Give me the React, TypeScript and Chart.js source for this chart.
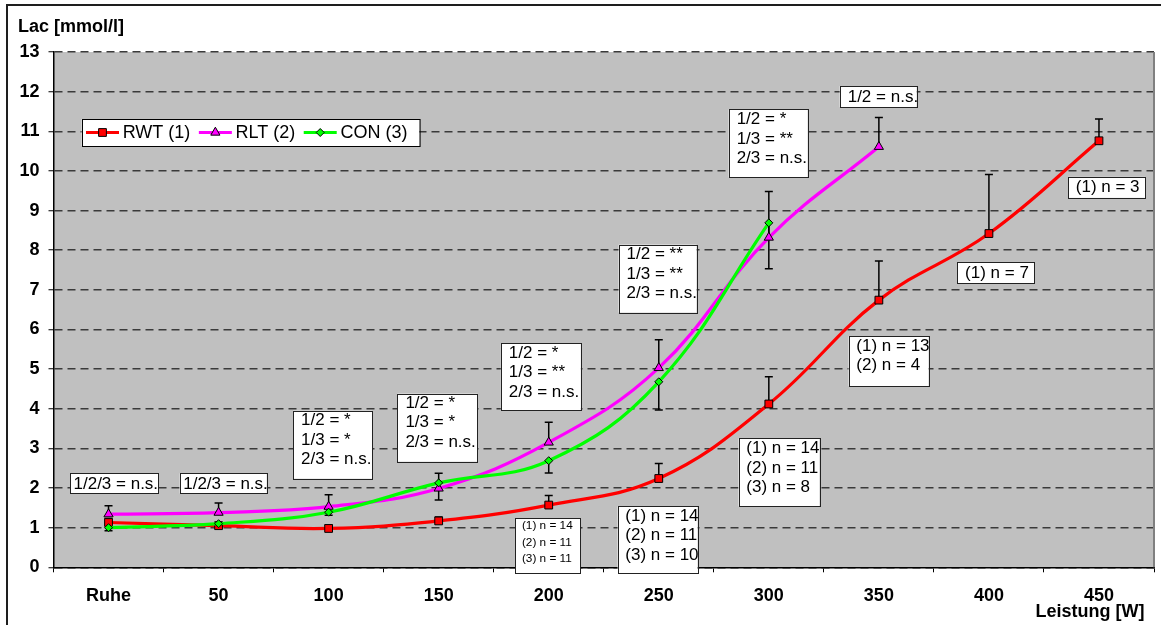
import React, { useEffect, useRef } from 'react';
import { Chart, registerables } from 'chart.js';

Chart.register(...registerables);

// Workload steps on the x axis
const categories = ['Ruhe', '50', '100', '150', '200', '250', '300', '350', '400', '450'];

// Mean blood lactate per group [mmol/l]
const rwtMean = [1.13, 1.05, 0.98, 1.17, 1.57, 2.24, 4.12, 6.74, 8.42, 10.76];
const rltMean = [1.34, 1.38, 1.53, 1.99, 3.15, 5.03, 8.32, 10.61, null, null];
const conMean = [1.0, 1.1, 1.39, 2.13, 2.69, 4.68, 8.69, null, null, null];

// Standard deviations (RWT and RLT drawn upward, CON drawn downward)
const rwtSd = [0.1, 0.08, 0.08, 0.1, 0.24, 0.38, 0.69, 0.99, 1.49, 0.55];
const rltSd = [0.21, 0.24, 0.3, 0.38, 0.51, 0.71, 1.16, 0.74, null, null];
const conSd = [0.08, 0.06, 0.08, 0.43, 0.31, 0.71, 1.16, null, null, null];

// Y axis range
const yMin = 0;
const yMax = 13;
const yStep = 1;

// Axis titles
const yTitle = 'Lac [mmol/l]';
const xTitle = 'Leistung [W]';

// Significance and sample-size notes
const noteTexts: string[][] = [
  ['1/2/3 = n.s.'],
  ['1/2/3 = n.s.'],
  ['1/2 = *', '1/3 = *', '2/3 = n.s.'],
  ['1/2 = *', '1/3 = *', '2/3 = n.s.'],
  ['1/2 = *', '1/3 = **', '2/3 = n.s.'],
  ['1/2 = **', '1/3 = **', '2/3 = n.s.'],
  ['1/2 = *', '1/3 = **', '2/3 = n.s.'],
  ['1/2 = n.s.'],
  ['(1) n = 14', '(2) n = 11', '(3) n = 11'],
  ['(1) n = 14', '(2) n = 11', '(3) n = 10'],
  ['(1) n = 14', '(2) n = 11', '(3) n = 8'],
  ['(1) n = 13', '(2) n = 4'],
  ['(1) n = 7'],
  ['(1) n = 3'],
];

// Placement of each note box: x in category units, y (top edge) in axis units, size in px
const noteLayout = [
  { x: -0.35, y: 2.37, w: 88, h: 20, pad: 3.5, size: 17, lead: 19.4, first: 10.5 },
  { x: 0.647, y: 2.37, w: 87, h: 20, pad: 3.5, size: 17, lead: 19.4, first: 10.5 },
  { x: 1.677, y: 3.95, w: 79, h: 68, pad: 8, size: 17, lead: 19.6, first: 9.5 },
  { x: 2.625, y: 4.38, w: 80, h: 68, pad: 8, size: 17, lead: 19.6, first: 9.5 },
  { x: 3.565, y: 5.65, w: 80, h: 67, pad: 8, size: 17, lead: 19.4, first: 10 },
  { x: 4.635, y: 8.14, w: 78, h: 68, pad: 8, size: 17, lead: 19.4, first: 10 },
  { x: 5.635, y: 11.55, w: 79, h: 68, pad: 8, size: 17, lead: 19.4, first: 10 },
  { x: 6.644, y: 12.14, w: 77, h: 21, pad: 8, size: 17, lead: 19.4, first: 10.8 },
  { x: 3.698, y: 1.24, w: 65, h: 55, pad: 6.4, size: 11.8, lead: 16.3, first: 7.8 },
  { x: 4.626, y: 1.54, w: 80, h: 67, pad: 7.7, size: 17, lead: 19.4, first: 9.8 },
  { x: 5.725, y: 3.25, w: 81, h: 68, pad: 7.7, size: 17, lead: 19.4, first: 10 },
  { x: 6.725, y: 5.83, w: 80, h: 50, pad: 7.7, size: 17, lead: 19.2, first: 9.8 },
  { x: 7.711, y: 7.69, w: 77, h: 21, pad: 8, size: 17, lead: 19.4, first: 10.8 },
  { x: 8.72, y: 9.85, w: 77, h: 21, pad: 7.6, size: 17, lead: 19.4, first: 10.8 },
];

const FONT = "'Liberation Sans', Arial, Helvetica, sans-serif";
const WIDTH = 1161;
const HEIGHT = 625;

type Marker = 'rect' | 'triangle' | 'rectRot';

function drawMarker(ctx: CanvasRenderingContext2D, kind: Marker, x: number, y: number, r: number, fill: string) {
  ctx.save();
  ctx.beginPath();
  if (kind === 'rect') {
    const s = r * Math.SQRT1_2;
    ctx.rect(x - s, y - s, 2 * s, 2 * s);
  } else if (kind === 'triangle') {
    for (let k = 0; k < 3; k++) {
      const a = -Math.PI / 2 + (k * 2 * Math.PI) / 3;
      const px = x + Math.cos(a) * r;
      const py = y + Math.sin(a) * r;
      if (k === 0) ctx.moveTo(px, py);
      else ctx.lineTo(px, py);
    }
    ctx.closePath();
  } else {
    ctx.moveTo(x - r, y);
    ctx.lineTo(x, y - r);
    ctx.lineTo(x + r, y);
    ctx.lineTo(x, y + r);
    ctx.closePath();
  }
  ctx.fillStyle = fill;
  ctx.fill();
  ctx.lineWidth = 1;
  ctx.strokeStyle = '#000';
  ctx.stroke();
  ctx.restore();
}

const errorSets = [
  { mean: rwtMean, sd: rwtSd, dir: 1 },
  { mean: rltMean, sd: rltSd, dir: 1 },
  { mean: conMean, sd: conSd, dir: -1 },
];

const framePlugin = {
  id: 'frame',
  beforeDraw(chart: any) {
    const { ctx, chartArea } = chart;
    ctx.save();
    ctx.fillStyle = '#fff';
    ctx.fillRect(0, 0, chart.width, chart.height);
    ctx.strokeStyle = '#1e1e1e';
    ctx.lineWidth = 2;
    ctx.beginPath();
    ctx.moveTo(7, chart.height);
    ctx.lineTo(7, 5);
    ctx.lineTo(chart.width, 5);
    ctx.stroke();
    ctx.fillStyle = '#c0c0c0';
    ctx.fillRect(chartArea.left, chartArea.top, chartArea.right - chartArea.left, chartArea.bottom - chartArea.top);
    ctx.restore();
  },
  beforeDatasetsDraw(chart: any) {
    const { ctx, chartArea } = chart;
    ctx.save();
    ctx.strokeStyle = '#808080';
    ctx.lineWidth = 2;
    ctx.beginPath();
    ctx.moveTo(chartArea.right, chartArea.top);
    ctx.lineTo(chartArea.right, chartArea.bottom);
    ctx.stroke();
    // error bars
    const xs = chart.scales.x;
    const ys = chart.scales.y;
    ctx.strokeStyle = '#000';
    ctx.lineWidth = 1.5;
    errorSets.forEach((set) => {
      set.mean.forEach((m, i) => {
        const d = set.sd[i];
        if (m == null || d == null) return;
        const px = xs.getPixelForValue(i);
        const y0 = ys.getPixelForValue(m);
        const y1 = ys.getPixelForValue(m + set.dir * d);
        ctx.beginPath();
        ctx.moveTo(px, y0);
        ctx.lineTo(px, y1);
        ctx.moveTo(px - 4, y1);
        ctx.lineTo(px + 4, y1);
        ctx.stroke();
      });
    });
    ctx.restore();
  },
  afterDraw(chart: any) {
    const { ctx, chartArea } = chart;
    const xs = chart.scales.x;
    const ys = chart.scales.y;
    ctx.save();
    // axis titles
    ctx.fillStyle = '#000';
    ctx.font = `bold 18px ${FONT}`;
    ctx.textBaseline = 'middle';
    ctx.textAlign = 'left';
    ctx.fillText(yTitle, 18, 27);
    ctx.textAlign = 'right';
    ctx.fillText(xTitle, 1144.5, 612);

    // note boxes
    noteTexts.forEach((lines, i) => {
      const L = noteLayout[i];
      const left = xs.getPixelForValue(L.x);
      const top = ys.getPixelForValue(L.y);
      ctx.fillStyle = '#fff';
      ctx.fillRect(left, top, L.w, L.h);
      ctx.strokeStyle = '#222';
      ctx.lineWidth = 1;
      ctx.strokeRect(Math.round(left) + 0.5, Math.round(top) + 0.5, L.w, L.h);
      ctx.fillStyle = '#000';
      ctx.font = `${L.size}px ${FONT}`;
      ctx.textAlign = 'left';
      ctx.textBaseline = 'middle';
      lines.forEach((t, k) => {
        ctx.fillText(t, left + L.pad, top + L.first + k * L.lead);
      });
    });

    // legend
    const lx = chartArea.left + 28.2;
    const ly = chartArea.top + 67;
    const lw = 337.6;
    const lh = 27;
    ctx.fillStyle = '#fff';
    ctx.fillRect(lx, ly, lw, lh);
    ctx.strokeStyle = '#000';
    ctx.lineWidth = 1;
    ctx.strokeRect(Math.round(lx) + 0.5, Math.round(ly) + 0.5, lw, lh);
    ctx.font = `18px ${FONT}`;
    ctx.textBaseline = 'middle';
    let cx = lx + 4.3;
    const cy = ly + 13.5;
    chart.data.datasets.forEach((ds: any) => {
      ctx.strokeStyle = ds.borderColor;
      ctx.lineWidth = 3;
      ctx.beginPath();
      ctx.moveTo(cx, cy);
      ctx.lineTo(cx + 33, cy);
      ctx.stroke();
      drawMarker(ctx, ds.pointStyle, cx + 16.5, cy, ds.pointRadius, ds.pointBackgroundColor);
      ctx.fillStyle = '#000';
      ctx.fillText(ds.label, cx + 36.7, cy + 0.5);
      cx += 36.7 + ctx.measureText(ds.label).width + 8.5;
    });
    ctx.restore();
  },
};

export default function App() {
  const ref = useRef<HTMLCanvasElement | null>(null);

  useEffect(() => {
    if (!ref.current) return;
    const tickFont = { family: FONT, size: 18, weight: 'bold' as const };
    const chart = new Chart(ref.current, {
      type: 'line',
      data: {
        labels: categories,
        datasets: [
          {
            label: 'RWT (1)',
            data: rwtMean,
            borderColor: '#ff0000',
            backgroundColor: '#ff0000',
            pointStyle: 'rect',
            pointRadius: 5.5,
            pointBackgroundColor: '#ff0000',
            pointBorderColor: '#000',
            pointBorderWidth: 1,
            order: 3,
          },
          {
            label: 'RLT (2)',
            data: rltMean,
            borderColor: '#ff00ff',
            backgroundColor: '#ff00ff',
            pointStyle: 'triangle',
            pointRadius: 5.3,
            pointBackgroundColor: '#ff00ff',
            pointBorderColor: '#000',
            pointBorderWidth: 1,
            order: 2,
          },
          {
            label: 'CON (3)',
            data: conMean,
            borderColor: '#00ff00',
            backgroundColor: '#00ff00',
            pointStyle: 'rectRot',
            pointRadius: 4,
            pointBackgroundColor: '#00ff00',
            pointBorderColor: '#000',
            pointBorderWidth: 1,
            order: 1,
          },
        ],
      },
      options: {
        responsive: false,
        animation: false,
        devicePixelRatio: 1,
        layout: { padding: { top: 52, right: 7, left: 0, bottom: 0 } },
        elements: { line: { tension: 0.4, borderWidth: 3.2, fill: false } },
        plugins: {
          legend: { display: false },
          tooltip: { enabled: false },
        },
        scales: {
          x: {
            type: 'category',
            offset: true,
            grid: {
              display: true,
              drawOnChartArea: false,
              offset: true,
              tickLength: 5,
              color: '#000',
              lineWidth: 1,
            },
            border: { display: true, color: '#000', width: 1.5 },
            ticks: {
              color: '#000',
              font: tickFont,
              padding: 13,
              maxRotation: 0,
              autoSkip: false,
            },
            afterFit: (s: any) => {
              s.height = 57.7;
            },
          },
          y: {
            min: yMin,
            max: yMax,
            ticks: { stepSize: yStep, color: '#000', font: tickFont, padding: 9 },
            grid: {
              color: '#3a3a3a',
              lineWidth: 1.5,
              tickLength: 5,
              tickColor: '#000',
              tickBorderDash: [],
              tickWidth: 1,
            },
            border: { display: true, color: '#000', width: 1.5, dash: [8, 5] },
            afterFit: (s: any) => {
              s.width = 53.5;
            },
          },
        },
      },
      plugins: [framePlugin],
    } as any);
    return () => chart.destroy();
  }, []);

  return (
    <div style={{ position: 'fixed', left: 0, top: 0, width: WIDTH, height: HEIGHT, background: '#fff' }}>
      <canvas ref={ref} width={WIDTH} height={HEIGHT} style={{ display: 'block' }} />
    </div>
  );
}
